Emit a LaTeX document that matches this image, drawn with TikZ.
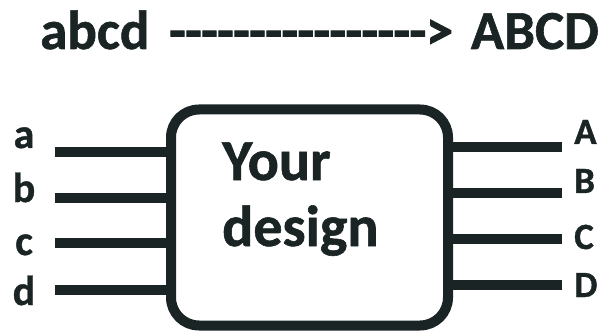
\documentclass[tikz,border=0pt]{standalone}
\usepackage{fontspec}
\setmainfont{Carlito}[BoldFont={Carlito Bold}, BoldFeatures={FakeBold=1}]
\newfontfamily\dashfont{Carlito Bold}[FakeBold=1.8]
\definecolor{ink}{RGB}{27,36,36}
\def\hy{-\kern-0.5pt}
\tikzset{
  ink/.style={draw=ink, line width=10pt},
  pin/.style={ink, line cap=butt},
  lbl/.style={text=ink, font=\bfseries\fontsize{42}{42}\selectfont, inner sep=0pt},
  rlbl/.style={text=ink, font=\bfseries\fontsize{37}{37}\selectfont, inner sep=0pt},
  ttl/.style={text=ink, font=\bfseries\fontsize{55}{55}\selectfont, inner sep=0pt},
  dsh/.style={text=ink, font=\dashfont\fontsize{54}{54}\selectfont, inner sep=0pt},
  big/.style={text=ink, font=\bfseries\fontsize{58}{58}\selectfont, inner sep=0pt},
}
\begin{document}
\begin{tikzpicture}[x=1pt,y=-1pt]
\useasboundingbox (0,0) rectangle (599,331);
% title
\node[ttl, anchor=base west] (src) at (40,49) {abcd};
\node[dsh, anchor=base west] (arr) at (169,49) {\hy\hy\hy\hy\hy\hy\hy\hy\hy\hy\hy\hy\hy\hy\hy\hy\kern0.5pt>};
\node[ttl, anchor=base east] (dst) at (599,49) {ABCD};
% box
\node[ink, rounded corners=28pt, minimum width=277pt, minimum height=216pt, inner sep=0pt] (box) at (309.5,217.5) {};
\node[big, anchor=base west] (t1) at (222,180) {Your};
\node[big, anchor=base west] (t2) at (222,246) {design};
% input pins
\foreach \n/\y/\b in {a/152/148, b/198/202, c/243/255, d/290/305}{
  \coordinate (i\n) at (55,\y);
  \draw[pin] (i\n) -- (i\n -| box.west);
  \node[lbl, anchor=base] (l\n) at (24,\b) {\n};
}
% output pins
\foreach \n/\y/\b in {A/147/144, B/193/193, C/239/249, D/285/297}{
  \coordinate (o\n) at (562,\y);
  \draw[pin] (o\n -| box.east) -- (o\n);
  \node[rlbl, anchor=base west] (l\n) at (574,\b) {\n};
}
\end{tikzpicture}
\end{document}
